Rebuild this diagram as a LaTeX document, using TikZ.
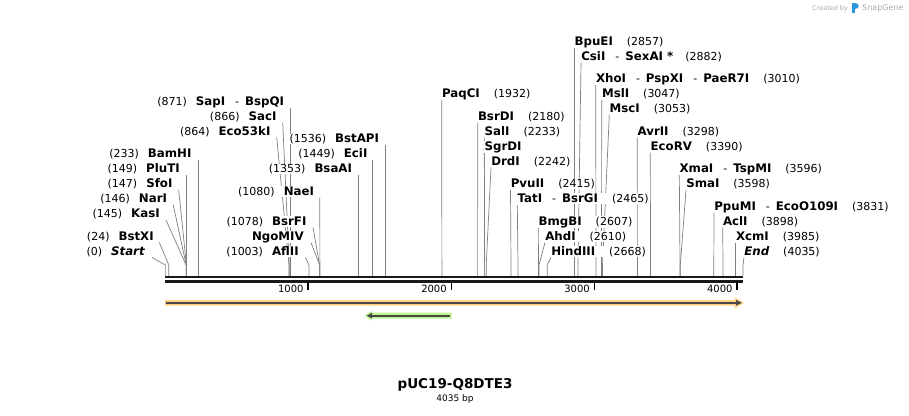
\documentclass[tikz,border=0pt]{standalone}
\usepackage{fontspec}
\setmainfont{DejaVu Sans}
\definecolor{leadgray}{RGB}{128,128,128}
\definecolor{featorange}{RGB}{255,208,130}
\definecolor{featgreen}{RGB}{190,244,140}
\definecolor{featdark}{RGB}{72,72,72}
\definecolor{logoblue}{RGB}{40,150,220}
\definecolor{credgray}{RGB}{170,170,170}
\pgfdeclarelayer{bg}
\pgfdeclarelayer{lines}
\pgfsetlayers{bg,lines,main}
\newcommand\enz[1]{{\fontsize{11.8}{13}\selectfont\bfseries #1}}
\newcommand\dsh{\hspace{10pt}-\hspace{6pt}}
\tikzset{
  lbl/.style={inner sep=0.3pt, outer sep=0pt, fill=white, font=\fontsize{11}{13}\selectfont},
  lead/.style={draw=leadgray, line width=0.7pt},
  strand/.style={draw=black!90, line width=2.3pt},
  tick/.style={draw=black, line width=1.8pt},
  ticklbl/.style={inner sep=0pt, font=\fontsize{10}{12}\selectfont, anchor=base east},
}
% left-side label: name, text end x, baseline, text, leader start x, site x
\newcommand\lsite[6]{%
  \node[lbl, anchor=base east] (#1) at (#2,#3) {#4};
  \coordinate (#1a) at (#5,#3+2.5);
  \coordinate (#1b) at (#6,265);
  \coordinate (#1s) at (#6,276);
  \begin{pgfonlayer}{lines}\draw[lead] (#1a) -- (#1b) -- (#1s);\end{pgfonlayer}
}
% right-side label: name, text start x, baseline, text, site x
\newcommand\rsite[5]{%
  \node[lbl, anchor=base west] (#1) at (#2,#3) {#4};
  \coordinate (#1a) at (#2,#3+2.5);
  \coordinate (#1b) at (#5,265);
  \coordinate (#1s) at (#5,276);
  \begin{pgfonlayer}{lines}\draw[lead] (#1a) -- (#1b) -- (#1s);\end{pgfonlayer}
}
\begin{document}
\begin{tikzpicture}[x=1pt,y=-1pt]
\useasboundingbox (0,0) rectangle (909,415);
\begin{pgfonlayer}{bg}\fill[white] (0,0) rectangle (909,415);\end{pgfonlayer}

% backbone
\coordinate (bbL1) at (165,277.2);
\coordinate (bbR1) at (743.3,277.2);
\coordinate (bbL2) at (165,281.5);
\coordinate (bbR2) at (743.3,281.5);
\draw[strand] (bbL1) -- (bbR1);
\draw[strand] (bbL2) -- (bbR2);

% ticks
\foreach \v/\xx in {1000/308.2,2000/451.4,3000/594.5,4000/737.2}{
  \coordinate (t\v a) at (\xx,282);
  \coordinate (t\v b) at (\xx,289.5);
  \draw[tick] (t\v a) -- (t\v b);
  \node[ticklbl] (tl\v) at (\xx-4.5,292.5) {\v};
}

% features
\fill[featorange] (165,300) -- (735,300) -- (735,297.3) -- (743.8,302.85) -- (735,308.4) -- (735,305.7) -- (165,305.7) -- cycle;
\draw[featdark, line width=1.7pt] (166,302.85) -- (737,302.85);
\fill[featdark] (736,300) -- (741.8,302.85) -- (736,305.7) -- cycle;

\fill[featgreen] (451.7,312.7) -- (371.5,312.7) -- (371.5,310.8) -- (364.8,315.7) -- (371.5,320.6) -- (371.5,318.7) -- (451.7,318.7) -- cycle;
\draw[featdark, line width=1.9pt] (450.2,315.7) -- (370,315.7);
\fill[featdark] (372,312.9) -- (366.8,315.7) -- (372,318.5) -- cycle;

% left labels
\lsite{Start}{145}{255}{(0)\hspace{9pt}\enz{\itshape Start}}{152}{165.35}
\lsite{BstXI}{154}{240}{(24)\hspace{9pt}\enz{BstXI}}{159.3}{168.8}
\lsite{KasI}{160}{217.5}{(145)\hspace{9pt}\enz{KasI}}{166}{186.1}
\lsite{NarI}{167.3}{202.5}{(146)\hspace{9pt}\enz{NarI}}{173.3}{186.2}
\lsite{SfoI}{172.7}{187.5}{(147)\hspace{9pt}\enz{SfoI}}{178.7}{186.4}
\lsite{PluTI}{180}{172.5}{(149)\hspace{9pt}\enz{PluTI}}{186.7}{186.7}
\lsite{BamHI}{191.7}{157.5}{(233)\hspace{9pt}\enz{BamHI}}{198.7}{198.7}
\lsite{Eco53kI}{270.7}{135}{(864)\hspace{9pt}\enz{Eco53kI}}{276.7}{289.0}
\lsite{SacI}{276.7}{120}{(866)\hspace{9pt}\enz{SacI}}{282.7}{289.3}
\lsite{SapI}{284.3}{105}{(871)\hspace{9pt}\enz{SapI}\dsh\enz{BspQI}}{290.5}{290.5}
\lsite{AflII}{299}{255}{(1003)\hspace{9pt}\enz{AflII}}{305.5}{308.9}
\lsite{NgoMIV}{304}{240}{\enz{NgoMIV}}{311}{319.6}
\lsite{BsrFI}{306.7}{225}{(1078)\hspace{9pt}\enz{BsrFI}}{313}{319.6}
\lsite{NaeI}{314.3}{195}{(1080)\hspace{9pt}\enz{NaeI}}{319.8}{319.9}
\lsite{BsaAI}{352.3}{172.5}{(1353)\hspace{9pt}\enz{BsaAI}}{358.5}{358.5}
\lsite{EciI}{367.7}{157.5}{(1449)\hspace{9pt}\enz{EciI}}{372.5}{372.5}
\lsite{BstAPI}{379.3}{142.5}{(1536)\hspace{9pt}\enz{BstAPI}}{385.3}{385.3}

% right labels
\rsite{PaqCI}{441.7}{97.5}{\enz{PaqCI}\hspace{14pt}(1932)}{441.9}
\rsite{BsrDI}{477.7}{120}{\enz{BsrDI}\hspace{14pt}(2180)}{477.6}
\rsite{SalI}{484.3}{135}{\enz{SalI}\hspace{14pt}(2233)}{484.6}
\rsite{SgrDI}{484.3}{150}{\enz{SgrDI}}{484.6}
\rsite{DrdI}{491}{165}{\enz{DrdI}\hspace{14pt}(2242)}{486.2}
\rsite{PvuII}{510.5}{187.5}{\enz{PvuII}\hspace{14pt}(2415)}{511}
\rsite{TatI}{517.3}{202.5}{\enz{TatI}\dsh\enz{BsrGI}\hspace{14pt}(2465)}{518}
\rsite{BmgBI}{538.3}{225}{\enz{BmgBI}\hspace{14pt}(2607)}{538.5}
\rsite{AhdI}{545}{240}{\enz{AhdI}\hspace{14pt}(2610)}{539}
\rsite{HindIII}{551}{255}{\enz{HindIII}\hspace{14pt}(2668)}{547.2}
\rsite{BpuEI}{574.3}{45}{\enz{BpuEI}\hspace{14pt}(2857)}{574.3}
\rsite{CsiI}{581}{60}{\enz{CsiI}\dsh\enz{SexAI *}\hspace{12pt}(2882)}{578}
\rsite{XhoI}{595.7}{82.5}{\enz{XhoI}\dsh\enz{PspXI}\dsh\enz{PaeR7I}\hspace{14pt}(3010)}{596}
\rsite{MslI}{601.7}{97.5}{\enz{MslI}\hspace{14pt}(3047)}{601.5}
\rsite{MscI}{609.3}{112.5}{\enz{MscI}\hspace{14pt}(3053)}{602.5}
\rsite{AvrII}{637.3}{135}{\enz{AvrII}\hspace{14pt}(3298)}{637.4}
\rsite{EcoRV}{650.3}{150}{\enz{EcoRV}\hspace{14pt}(3390)}{650.5}
\rsite{XmaI}{679.3}{172.5}{\enz{XmaI}\dsh\enz{TspMI}\hspace{14pt}(3596)}{680}
\rsite{SmaI}{686}{187.5}{\enz{SmaI}\hspace{14pt}(3598)}{680.3}
\rsite{PpuMI}{714}{210}{\enz{PpuMI}\dsh\enz{EcoO109I}\hspace{14pt}(3831)}{713.8}
\rsite{AclI}{722.7}{225}{\enz{AclI}\hspace{14pt}(3898)}{723}
\rsite{XcmI}{735.7}{240}{\enz{XcmI}\hspace{14pt}(3985)}{735.7}
\rsite{End}{744}{255}{\enz{\itshape End}\hspace{14pt}(4035)}{743}

% title
\node[inner sep=0pt, anchor=base, font=\fontsize{13.5}{15}\selectfont\bfseries] (title) at (455,388.5) {pUC19-Q8DTE3};
\node[inner sep=0pt, anchor=base, font=\fontsize{9}{11}\selectfont] (size) at (455,401.5) {4035 bp};

% credit
\node[inner sep=0pt, anchor=base west, text=credgray, font=\fontsize{6.5}{8}\selectfont] (cred) at (812,10) {Created by};
\fill[logoblue] (851.5,3) rectangle (854.5,12.5);
\fill[logoblue] (854.5,3) .. controls (860,3) and (860,9) .. (854.5,9) -- cycle;
\node[inner sep=0pt, anchor=base west, text=credgray, font=\fontsize{8}{9}\selectfont] (sgn) at (862,10) {SnapGene};
\end{tikzpicture}
\end{document}
